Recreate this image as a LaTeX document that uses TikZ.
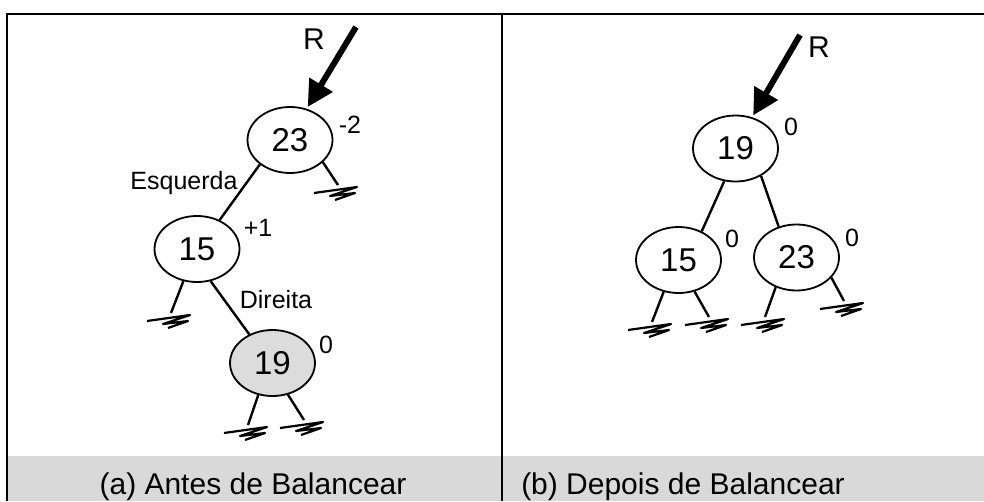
\documentclass[tikz,border=0pt]{standalone}
\usepackage{fontspec}
\setmainfont{Liberation Sans}
\usetikzlibrary{arrows.meta,shapes.geometric}
\definecolor{band}{HTML}{D9D9D9}
\definecolor{nodegray}{HTML}{DCDCDC}
\begin{document}
\begin{tikzpicture}[x=1pt,y=-1pt,
  tnode/.style={draw,ellipse,line width=1.8pt,minimum width=85pt,minimum height=66pt,inner sep=0pt,font=\fontsize{33}{33}\selectfont},
  edge/.style={line width=2.4pt},
  ptr/.style={line width=6pt,-{Triangle[length=26pt,width=26pt]}},
  bal/.style={font=\fontsize{25}{25}\selectfont,inner sep=0pt},
  lbl/.style={font=\fontsize{25}{25}\selectfont,inner sep=0pt,anchor=base},
  rlbl/.style={font=\fontsize{30}{30}\selectfont,inner sep=0pt,anchor=base},
  captext/.style={font=\fontsize{30}{30}\selectfont,inner sep=0pt,anchor=base},
  gnd/.pic={\draw[line width=2.2pt,line join=round] (-24,8) -- (19,2) -- (-8,11) -- (17,8) -- (-3,15);}
]
\useasboundingbox (0,0) rectangle (984,501);
% band and frame
\fill[band] (7,456) rectangle (984,501);
\draw[line width=2.8pt] (7,501) -- (7,14) -- (984,14);
\draw[line width=2.8pt] (502,14) -- (502,501);
\node[captext] (capa) at (253,494) {(a) Antes de Balancear};
\node[captext] (capb) at (683,494) {(b) Depois de Balancear};

% ---------- left tree ----------
\node[tnode] (a23) at (290,140) {23};
\node[tnode] (a15) at (197,249) {15};
\node[tnode,fill=nodegray] (a19) at (272.5,363) {19};
\node[rlbl] (ra) at (314,49) {R};
\coordinate (ta) at (356,27);
\draw[ptr,shorten >=2pt] (ta) -- (a23.62);
\node[bal] (ba23) at (350,125) {-2};
\node[bal] (ba15) at (258,228) {+1};
\node[bal] (ba19) at (326,345) {0};
\node[lbl] (esq) at (184,189) {Esquerda};
\node[lbl] (dir) at (276,308) {Direita};
\draw[edge] (a23.219) -- (a15.52);
\draw[edge] (a15.293) -- (a19.129);
\coordinate (ga23) at (338,185);
\coordinate (ga15) at (171,313);
\coordinate (ga19l) at (248,425);
\coordinate (ga19r) at (304,420);
\draw[edge] (a23.326) -- (ga23);
\draw[edge] (a15.247) -- (ga15);
\draw[edge] (a19.246) -- (ga19l);
\draw[edge] (a19.296) -- (ga19r);
\pic at (ga23) {gnd};
\pic at (ga15) {gnd};
\pic at (ga19l) {gnd};
\pic at (ga19r) {gnd};

% ---------- right tree ----------
\node[tnode] (b19) at (735.5,148.5) {19};
\node[tnode] (b15) at (678.5,260) {15};
\node[tnode] (b23) at (796.5,257.5) {23};
\node[rlbl] (rb) at (819,57) {R};
\coordinate (tb) at (800,35);
\draw[ptr,shorten >=2pt] (tb) -- (b19.62);
\node[bal] (bb19) at (791,127) {0};
\node[bal] (bb15) at (732,239) {0};
\node[bal] (bb23) at (852,238) {0};
\draw[edge] (b19.251) -- (b15.51);
\draw[edge] (b19.313) -- (b23.120);
\coordinate (gb15l) at (652,322);
\coordinate (gb15r) at (709,317);
\coordinate (gb23l) at (765,317);
\coordinate (gb23r) at (844,301);
\draw[edge] (b15.245) -- (gb15l);
\draw[edge] (b15.297) -- (gb15r);
\draw[edge] (b23.235) -- (gb23l);
\draw[edge] (b23.330) -- (gb23r);
\pic at (gb15l) {gnd};
\pic at (gb15r) {gnd};
\pic at (gb23l) {gnd};
\pic at (gb23r) {gnd};
\end{tikzpicture}
\end{document}
